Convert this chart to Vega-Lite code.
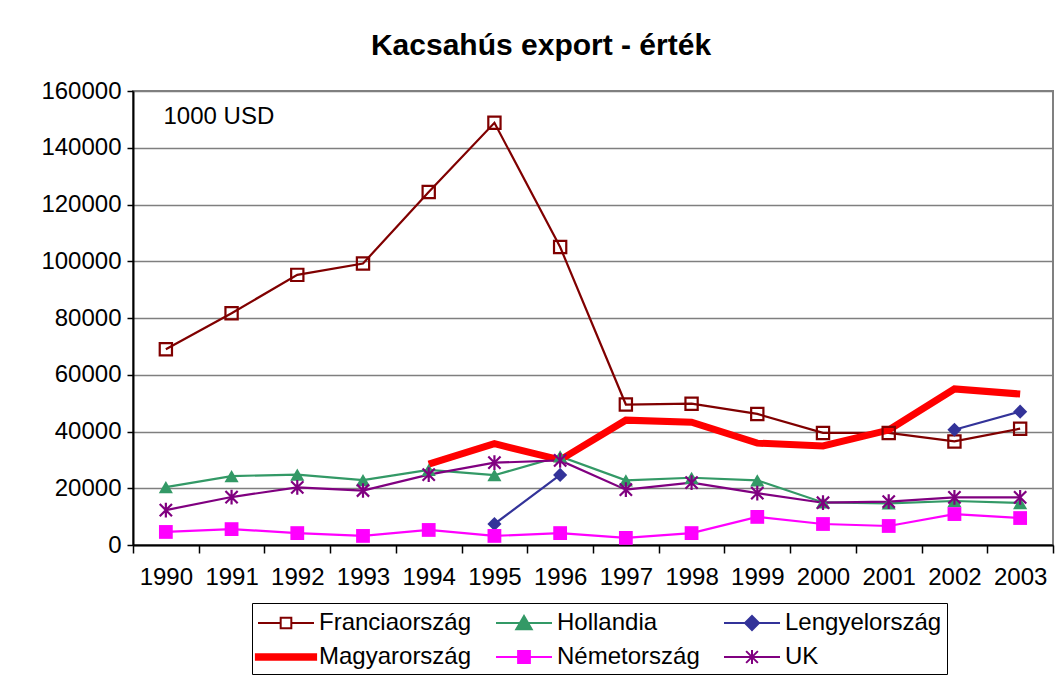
{
  "$schema": "https://vega.github.io/schema/vega-lite/v6.json",
  "width": 920,
  "height": 454,
  "autosize": {"type": "none"},
  "padding": {"left": 133, "top": 91, "right": 9, "bottom": 142},
  "background": "white",
  "title": {"text": "Kacsahús export - érték", "fontSize": 30, "fontWeight": "bold", "font": "Liberation Sans", "color": "black", "anchor": "middle", "dx": -52, "offset": 18},
  "config": {
    "font": "Liberation Sans",
    "view": {"stroke": "#808080", "strokeWidth": 2},
    "axis": {"labelFont": "Liberation Sans", "labelFontSize": 24, "labelColor": "black", "domainColor": "black", "domainWidth": 2, "tickColor": "black", "tickWidth": 1.5},
    "legend": {
      "orient": "none", "legendX": 119, "legendY": 512, "columns": 3, "direction": "horizontal",
      "strokeColor": "black", "padding": 5, "labelFont": "Liberation Sans", "labelFontSize": 24, "labelColor": "black",
      "symbolSize": 784, "symbolStrokeWidth": 2, "rowPadding": 7, "columnPadding": 20, "symbolOffset": 14, "labelOffset": 18, "labelLimit": 300, "symbolOpacity": 1
    }
  },
  "data": {"values": [
    {"year": "1990", "series": "Franciaország", "value": 69000},
    {"year": "1991", "series": "Franciaország", "value": 81700},
    {"year": "1992", "series": "Franciaország", "value": 95200},
    {"year": "1993", "series": "Franciaország", "value": 99200},
    {"year": "1994", "series": "Franciaország", "value": 124400},
    {"year": "1995", "series": "Franciaország", "value": 148800},
    {"year": "1996", "series": "Franciaország", "value": 105000},
    {"year": "1997", "series": "Franciaország", "value": 49500},
    {"year": "1998", "series": "Franciaország", "value": 49800},
    {"year": "1999", "series": "Franciaország", "value": 46200},
    {"year": "2000", "series": "Franciaország", "value": 39500},
    {"year": "2001", "series": "Franciaország", "value": 39500},
    {"year": "2002", "series": "Franciaország", "value": 36500},
    {"year": "2003", "series": "Franciaország", "value": 41000},
    {"year": "1990", "series": "Hollandia", "value": 20400},
    {"year": "1991", "series": "Hollandia", "value": 24300},
    {"year": "1992", "series": "Hollandia", "value": 24800},
    {"year": "1993", "series": "Hollandia", "value": 22900},
    {"year": "1994", "series": "Hollandia", "value": 26500},
    {"year": "1995", "series": "Hollandia", "value": 24600},
    {"year": "1996", "series": "Hollandia", "value": 31200},
    {"year": "1997", "series": "Hollandia", "value": 22800},
    {"year": "1998", "series": "Hollandia", "value": 23700},
    {"year": "1999", "series": "Hollandia", "value": 22800},
    {"year": "2000", "series": "Hollandia", "value": 15000},
    {"year": "2001", "series": "Hollandia", "value": 14700},
    {"year": "2002", "series": "Hollandia", "value": 15500},
    {"year": "2003", "series": "Hollandia", "value": 14800},
    {"year": "1995", "series": "Lengyelország", "value": 7400},
    {"year": "1996", "series": "Lengyelország", "value": 24700},
    {"year": "1997", "series": "Lengyelország", "value": null},
    {"year": "1998", "series": "Lengyelország", "value": null},
    {"year": "1999", "series": "Lengyelország", "value": null},
    {"year": "2000", "series": "Lengyelország", "value": null},
    {"year": "2001", "series": "Lengyelország", "value": null},
    {"year": "2002", "series": "Lengyelország", "value": 40600},
    {"year": "2003", "series": "Lengyelország", "value": 47000},
    {"year": "1994", "series": "Magyarország", "value": 28500},
    {"year": "1995", "series": "Magyarország", "value": 35700},
    {"year": "1996", "series": "Magyarország", "value": 30000},
    {"year": "1997", "series": "Magyarország", "value": 44000},
    {"year": "1998", "series": "Magyarország", "value": 43300},
    {"year": "1999", "series": "Magyarország", "value": 35900},
    {"year": "2000", "series": "Magyarország", "value": 34900},
    {"year": "2001", "series": "Magyarország", "value": 40500},
    {"year": "2002", "series": "Magyarország", "value": 55000},
    {"year": "2003", "series": "Magyarország", "value": 53200},
    {"year": "1990", "series": "Németország", "value": 4600},
    {"year": "1991", "series": "Németország", "value": 5600},
    {"year": "1992", "series": "Németország", "value": 4200},
    {"year": "1993", "series": "Németország", "value": 3200},
    {"year": "1994", "series": "Németország", "value": 5300},
    {"year": "1995", "series": "Németország", "value": 3200},
    {"year": "1996", "series": "Németország", "value": 4200},
    {"year": "1997", "series": "Németország", "value": 2500},
    {"year": "1998", "series": "Németország", "value": 4200},
    {"year": "1999", "series": "Németország", "value": 9900},
    {"year": "2000", "series": "Németország", "value": 7400},
    {"year": "2001", "series": "Németország", "value": 6700},
    {"year": "2002", "series": "Németország", "value": 10900},
    {"year": "2003", "series": "Németország", "value": 9500},
    {"year": "1990", "series": "UK", "value": 12300},
    {"year": "1991", "series": "UK", "value": 16900},
    {"year": "1992", "series": "UK", "value": 20300},
    {"year": "1993", "series": "UK", "value": 19200},
    {"year": "1994", "series": "UK", "value": 24800},
    {"year": "1995", "series": "UK", "value": 29000},
    {"year": "1996", "series": "UK", "value": 29800},
    {"year": "1997", "series": "UK", "value": 19500},
    {"year": "1998", "series": "UK", "value": 22000},
    {"year": "1999", "series": "UK", "value": 18300},
    {"year": "2000", "series": "UK", "value": 14900},
    {"year": "2001", "series": "UK", "value": 15300},
    {"year": "2002", "series": "UK", "value": 16800},
    {"year": "2003", "series": "UK", "value": 16800}
  ]},
  "encoding": {
    "x": {
      "field": "year", "type": "ordinal", "bandPosition": 0.5,
      "scale": {"type": "band", "paddingInner": 0, "paddingOuter": 0},
      "axis": {"title": null, "tickBand": "extent", "tickSize": 8, "labelPadding": 12, "labelAngle": 0, "grid": false}
    },
    "y": {
      "field": "value", "type": "quantitative",
      "scale": {"domain": [0, 160000], "nice": false},
      "axis": {
        "values": [0, 20000, 40000, 60000, 80000, 100000, 120000, 140000, 160000], "format": "d",
        "tickSize": 6, "labelPadding": 6, "grid": true, "gridColor": "#7f7f7f", "gridWidth": 1.3,
        "title": "1000 USD", "titleAngle": 0, "titleAlign": "left", "titleBaseline": "middle", "titleX": 30, "titleY": 25,
        "titleFontSize": 24, "titleFontWeight": "normal", "titleFont": "Liberation Sans", "titleColor": "black"
      }
    },
    "color": {"field": "series", "type": "nominal",
      "scale": {"domain": ["Franciaország", "Hollandia", "Lengyelország", "Magyarország", "Németország", "UK"], "range": ["#800000", "#339966", "#333399", "#FF0000", "#FF00FF", "#800080"]},
      "legend": {"title": null, "encode": {"symbols": {"update": {"fill": {"scale": "color", "field": "value"}, "stroke": {"scale": "color", "field": "value"}, "strokeWidth": {"value": 2}, "opacity": {"value": 1}}}}}}
  },
  "layer": [
    {
      "transform": [{"filter": {"field": "series", "oneOf": ["Franciaország", "Hollandia", "Lengyelország"]}}],
      "mark": {"type": "line", "strokeWidth": 2.2, "invalid": "break-paths-filter-domains"}
    },
    {
      "transform": [{"filter": {"field": "series", "equal": "Magyarország"}}],
      "mark": {"type": "line", "strokeWidth": 7}
    },
    {
      "transform": [{"filter": {"field": "series", "oneOf": ["Németország", "UK"]}}],
      "mark": {"type": "line", "strokeWidth": 2.2}
    },
    {
      "transform": [{"filter": {"field": "series", "equal": "Franciaország"}}],
      "mark": {"type": "point", "shape": "square", "filled": false, "opacity": 1, "strokeWidth": 2.2, "size": 150}
    },
    {
      "transform": [{"filter": {"field": "series", "equal": "Hollandia"}}],
      "mark": {"type": "point", "shape": "triangle-up", "filled": true, "opacity": 1, "size": 200}
    },
    {
      "transform": [{"filter": {"field": "series", "equal": "Lengyelország"}}, {"filter": "isValid(datum.value)"}],
      "mark": {"type": "point", "shape": "diamond", "filled": true, "opacity": 1, "size": 200}
    },
    {
      "transform": [{"filter": {"field": "series", "equal": "Németország"}}],
      "mark": {"type": "point", "shape": "square", "filled": true, "opacity": 1, "size": 190}
    },
    {
      "transform": [{"filter": {"field": "series", "equal": "UK"}}],
      "mark": {"type": "point", "shape": "M-1,-1L1,1M-1,1L1,-1M0,-1.2V1.2", "filled": false, "opacity": 1, "strokeWidth": 2.2, "size": 150}
    },
    {
      "transform": [{"filter": "datum.value < 0"}],
      "mark": {"type": "point", "filled": true, "opacity": 1, "strokeWidth": 2},
      "encoding": {
        "shape": {"field": "series", "type": "nominal",
          "scale": {"domain": ["Franciaország", "Hollandia", "Lengyelország", "Magyarország", "Németország", "UK"],
            "range": ["M-2,0H-0.38M0.38,0H2M-0.38,-0.38H0.38V0.38H-0.38ZM-0.38,-0.38V0.38H0.38V-0.38Z", "M-2,0H2M0,-0.5L0.55,0.45H-0.55Z", "M-2,0H2M0,-0.5L0.5,0L0,0.5L-0.5,0Z", "M-2.15,-0.2H2.15V0.2H-2.15Z", "M-2,0H2M-0.42,-0.42H0.42V0.42H-0.42Z", "M-2,0H2M-0.42,-0.42L0.42,0.42M-0.42,0.42L0.42,-0.42M0,-0.5V0.5"]},
          "legend": {"title": null}}
      }
    }
  ]
}
